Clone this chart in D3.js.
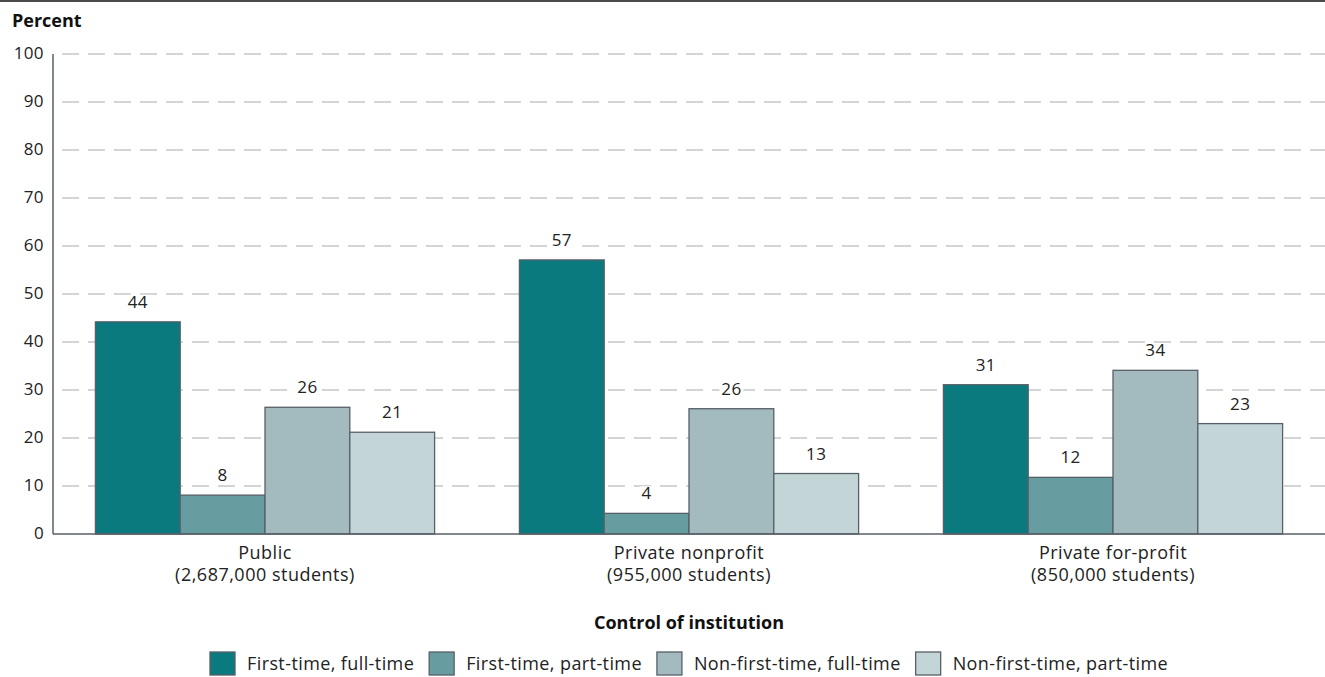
<!DOCTYPE html>
<html>
<head>
<meta charset="utf-8">
<script src="https://cdn.jsdelivr.net/npm/d3@7"></script>
<style>
body { margin: 0; background: #fff; }
svg { display: block; font-family: "Open Sans", "DejaVu Sans", sans-serif; }
</style>
</head>
<body>
<svg id="chart" width="1325" height="677"></svg>
<script>
const categories = ["Public", "Private nonprofit", "Private for-profit"];
const categorySub = ["(2,687,000 students)", "(955,000 students)", "(850,000 students)"];
const seriesNames = ["First-time, full-time", "First-time, part-time", "Non-first-time, full-time", "Non-first-time, part-time"];
// bar heights; labels are the rounded values
const firstFull = [44.2, 57.1, 31.1];
const firstPart = [8.1, 4.3, 11.8];
const nonFirstFull = [26.4, 26.1, 34.1];
const nonFirstPart = [21.2, 12.6, 23.0];
const firstFullLabels = ["44", "57", "31"];
const firstPartLabels = ["8", "4", "12"];
const nonFirstFullLabels = ["26", "26", "34"];
const nonFirstPartLabels = ["21", "13", "23"];
const yTicks = [0, 10, 20, 30, 40, 50, 60, 70, 80, 90, 100];
const colors = ["#0a7a7e", "#679ca0", "#a3bbbf", "#c3d5d7"];

const series = [firstFull, firstPart, nonFirstFull, nonFirstPart];
const labels = [firstFullLabels, firstPartLabels, nonFirstFullLabels, nonFirstPartLabels];

const svg = d3.select("#chart");
const W = 1325, H = 677;
const margin = {left: 53, right: 0, top: 54, bottom: 143};
const x0 = d3.scaleBand().domain(categories).range([margin.left, W]).paddingInner(0.2).paddingOuter(0.1);
const x1 = d3.scaleBand().domain(d3.range(series.length)).range([0, x0.bandwidth()]);
const y = d3.scaleLinear().domain([0, 100]).range([H - margin.bottom, margin.top]);
const stroke = "#575f67";

// top rule
svg.append("line").attr("x1", 0).attr("x2", W).attr("y1", 1).attr("y2", 1)
  .attr("stroke", "#4a4a4a").attr("stroke-width", 2);

svg.append("text").attr("x", 12).attr("y", 27).text("Percent")
  .attr("font-weight", "bold").attr("font-size", 18).attr("fill", "#111");

// grid
svg.append("g").selectAll("line").data(yTicks.filter(d => d > 0)).join("line")
  .attr("x1", margin.left).attr("x2", W)
  .attr("y1", d => y(d)).attr("y2", d => y(d))
  .attr("stroke", "#c6c6ca").attr("stroke-width", 1.4).attr("stroke-dasharray", "17,9")
  .attr("stroke-dashoffset", -9);

// y tick labels
svg.append("g").selectAll("text").data(yTicks).join("text")
  .attr("x", 44).attr("y", d => y(d) - 1).attr("dy", "0.36em")
  .attr("text-anchor", "end").attr("font-size", 17).attr("letter-spacing", 0.4)
  .attr("fill", "#222").text(d => d);

// bars
const groups = svg.append("g").selectAll("g").data(categories).join("g")
  .attr("transform", c => `translate(${x0(c)},0)`);
groups.each(function(c, ci) {
  const g = d3.select(this);
  series.forEach((s, si) => {
    const v = s[ci];
    g.append("rect").attr("x", x1(si)).attr("width", x1.bandwidth())
      .attr("y", y(v)).attr("height", y(0) - y(v))
      .attr("fill", colors[si]).attr("stroke", stroke).attr("stroke-width", 1.3);
  });
  series.forEach((s, si) => {
    const v = s[ci];
    const cx = x1(si) + x1.bandwidth() / 2;
    const ty = y(v) - 14;
    const txt = labels[si][ci];
    const w = txt.length * 10 + 4;
    g.append("rect").attr("x", cx - w / 2).attr("y", ty - 13).attr("width", w).attr("height", 15).attr("fill", "#fff");
    g.append("text").attr("x", cx).attr("y", ty).attr("text-anchor", "middle")
      .attr("font-size", 17).attr("letter-spacing", 0.4).attr("fill", "#222").text(txt);
  });
});

// axes lines
svg.append("line").attr("x1", margin.left).attr("x2", margin.left).attr("y1", y(100)).attr("y2", y(0))
  .attr("stroke", stroke).attr("stroke-width", 1.5);
svg.append("line").attr("x1", margin.left).attr("x2", W).attr("y1", y(0)).attr("y2", y(0))
  .attr("stroke", stroke).attr("stroke-width", 1.5);

// category labels
const cl = svg.append("g").selectAll("text").data(categories).join("text")
  .attr("x", c => x0(c) + x0.bandwidth() / 2).attr("y", 559)
  .attr("text-anchor", "middle").attr("font-size", 18).attr("letter-spacing", 0.5).attr("fill", "#222");
cl.append("tspan").text(c => c);
cl.append("tspan").attr("x", c => x0(c) + x0.bandwidth() / 2).attr("dy", 22).text((c, i) => categorySub[i]);

svg.append("text").attr("x", (margin.left + W) / 2).attr("y", 629)
  .attr("text-anchor", "middle").attr("font-weight", "bold").attr("font-size", 18).attr("fill", "#111")
  .text("Control of institution");

// legend
const leg = svg.append("g");
const items = leg.selectAll("g").data(seriesNames).join("g");
items.append("rect").attr("y", 652).attr("width", 25).attr("height", 23).attr("fill", (d, i) => colors[i])
  .attr("stroke", stroke).attr("stroke-width", 1.3);
items.append("text").attr("x", 37).attr("y", 670).attr("font-size", 18).attr("letter-spacing", 0.4)
  .attr("fill", "#222").text(d => d);
let cx = 0;
items.each(function() {
  const g = d3.select(this);
  g.attr("transform", `translate(${cx},0)`);
  cx += 37 + g.select("text").node().getComputedTextLength() + 15;
});
const total = cx - 15;
leg.attr("transform", `translate(${(margin.left + W) / 2 - total / 2},0)`);
</script>
</body>
</html>
